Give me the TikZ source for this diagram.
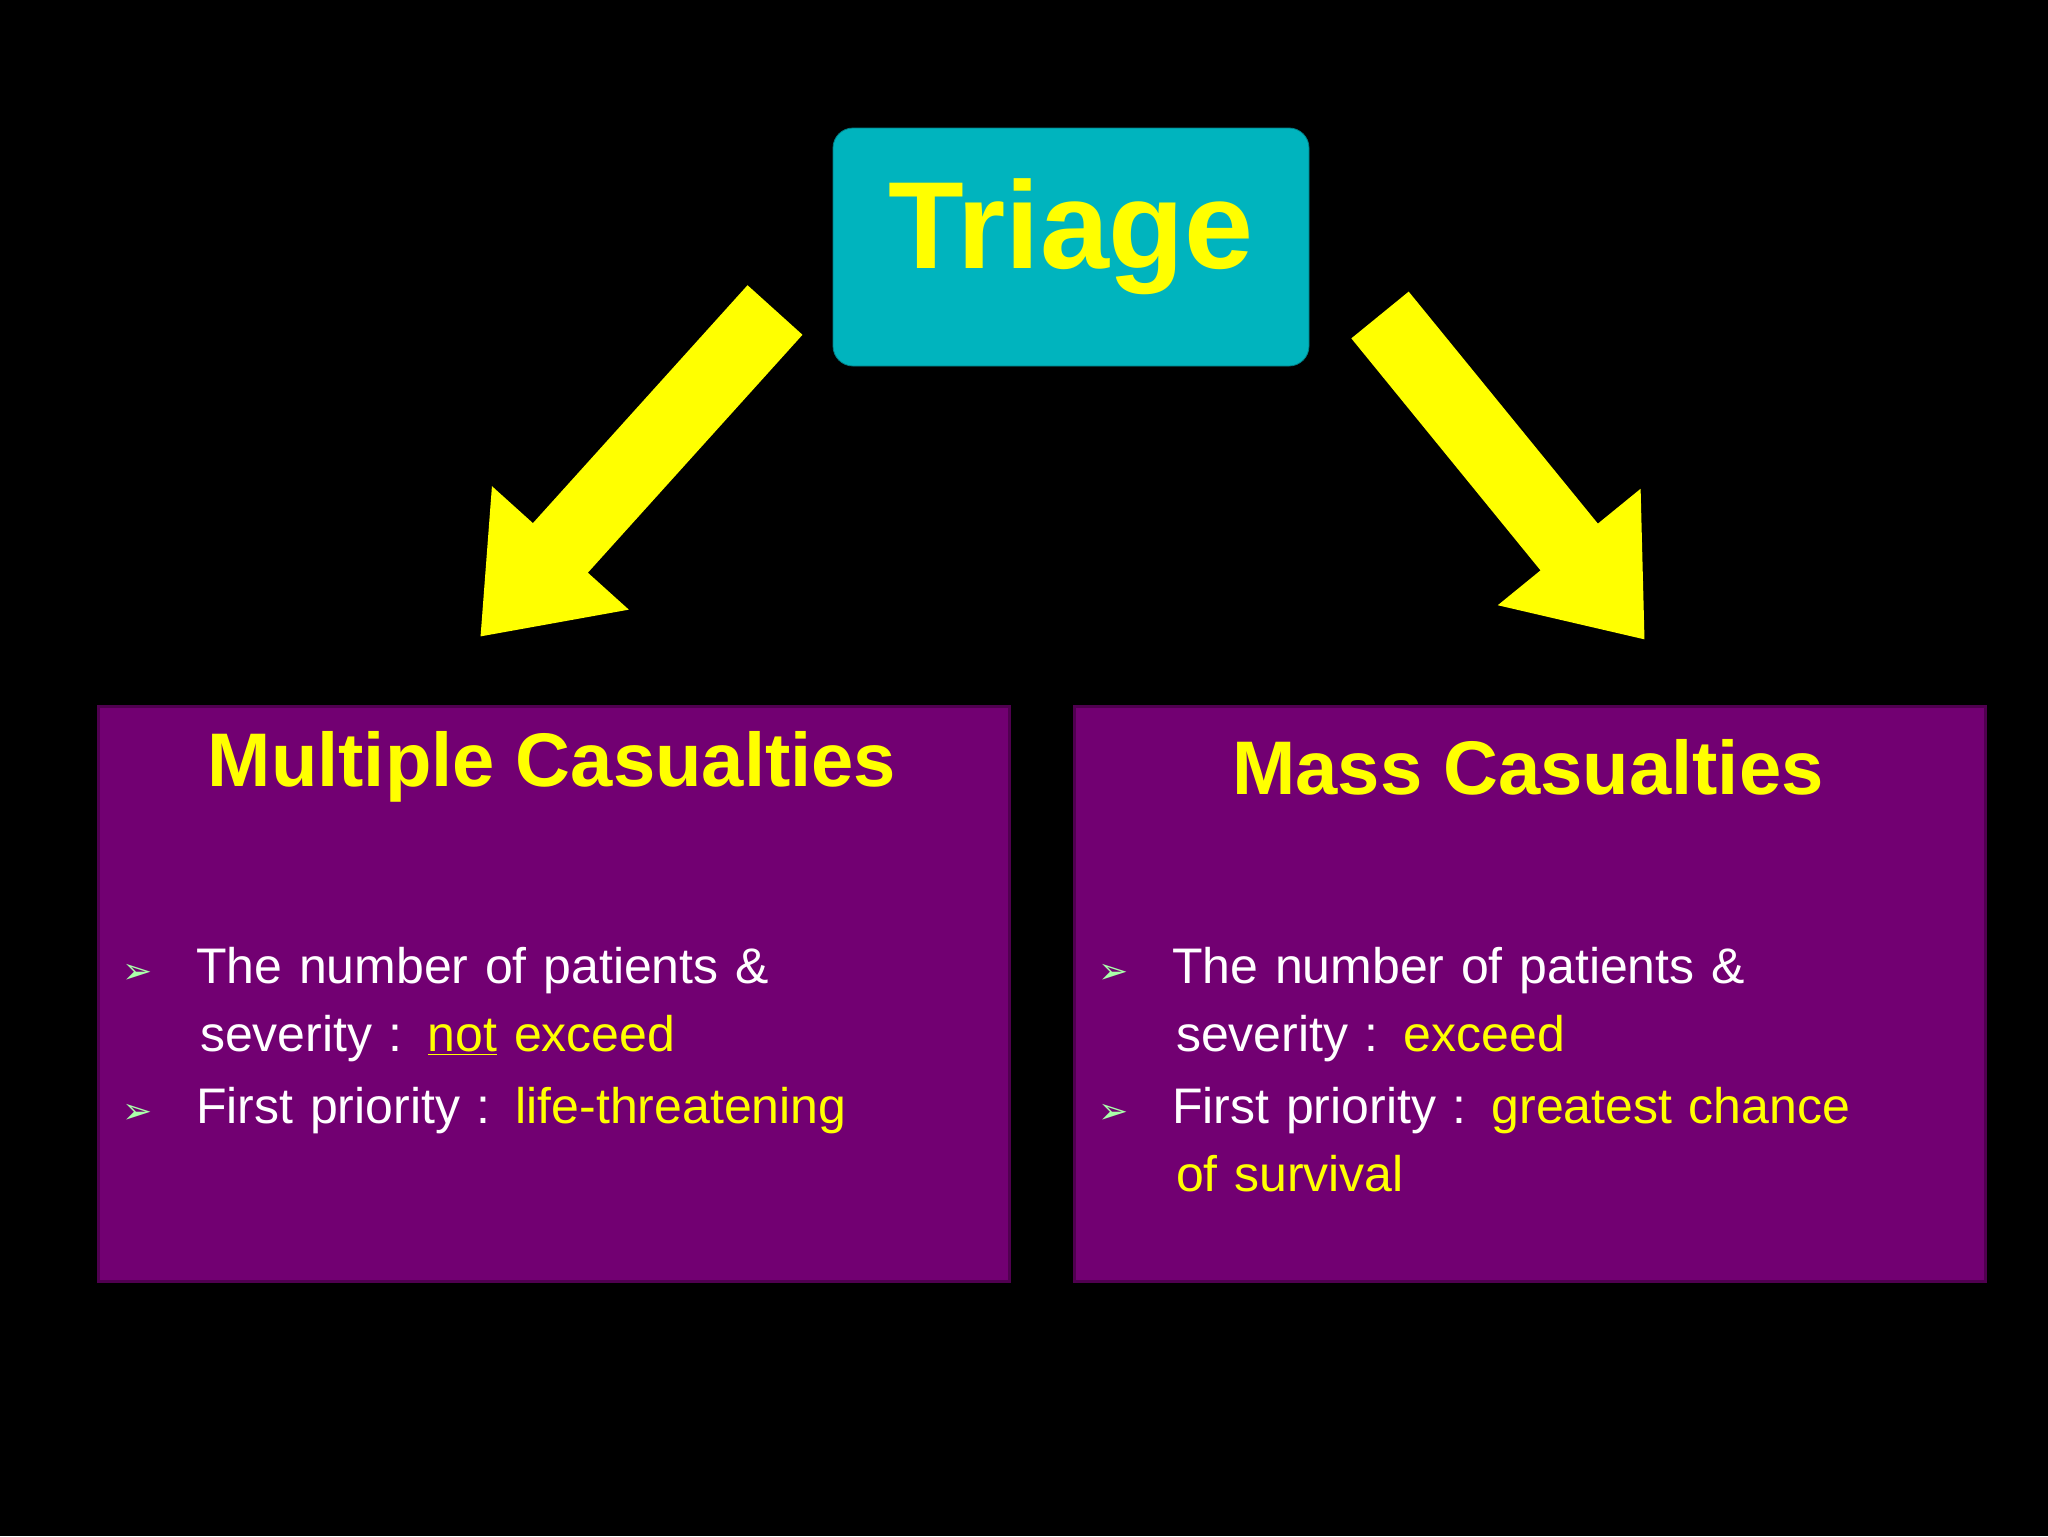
\documentclass[tikz,border=0pt]{standalone}
\usepackage{fontspec}
\setmainfont{Liberation Sans}
\newfontfamily\symf{DejaVu Sans}
\usetikzlibrary{arrows.meta}
\definecolor{ylw}{RGB}{255,255,0}
\definecolor{purp}{RGB}{114,0,114}
\definecolor{teal2}{RGB}{0,180,190}
\definecolor{bgreen}{RGB}{170,255,170}
\begin{document}
\begin{tikzpicture}[x=0.5pt,y=-0.5pt,
  panel/.style={draw=purp!70!black,line width=1.5pt,fill=purp,minimum width=455.5pt,minimum height=287.5pt,anchor=north west,inner sep=0},
  ttl/.style={text=ylw,font=\bfseries\fontsize{38}{44}\selectfont,anchor=center},
  body/.style={text=white,font=\fontsize{25}{34}\selectfont,anchor=north west,align=left,text width=400pt},
  bigarrow/.style={draw=ylw,line width=37pt,-{Triangle[length=60pt,width=88pt]},shorten >=0pt}]
\fill[black] (0,0) rectangle (2048,1536);
\node[fill=teal2,draw=teal2!70!black,rounded corners=10pt,minimum width=238pt,minimum height=119pt,inner sep=0] (tri) at (1071,247) {};
\node[text=ylw,font=\bfseries\fontsize{62}{70}\selectfont] (trit) at (1071,237) {Triage};
\node[panel] (L) at (97,705) {};
\node[panel] (R) at (1073,705) {};
\node[ttl] (Lt) at (552,767) {Multiple Casualties};
\node[ttl] (Rt) at (1528,767) {Mass Casualties};
\newcommand{\bul}{{\symf\color{bgreen}\fontsize{18}{20}\selectfont ➢}}
\node[body] (Lb) at (115,940) {\bul\hspace{22pt}The number of patients \&\\
\hspace{39pt}severity : {\color{ylw}\underline{not} exceed}\\[2pt]
\bul\hspace{22pt}First priority : {\color{ylw}life-threatening}};
\node[body] (Rb) at (1091,940) {\bul\hspace{22pt}The number of patients \&\\
\hspace{39pt}severity : {\color{ylw}exceed}\\[2pt]
\bul\hspace{22pt}First priority : {\color{ylw}greatest chance}\\
\hspace{39pt}{\color{ylw}of survival}};
\coordinate (la) at (775,310);
\coordinate (lb) at (480,637);
\coordinate (ra) at (1380,315);
\coordinate (rb) at (1645,640);
\draw[bigarrow] (la) -- (lb);
\draw[bigarrow] (ra) -- (rb);
\end{tikzpicture}
\end{document}
